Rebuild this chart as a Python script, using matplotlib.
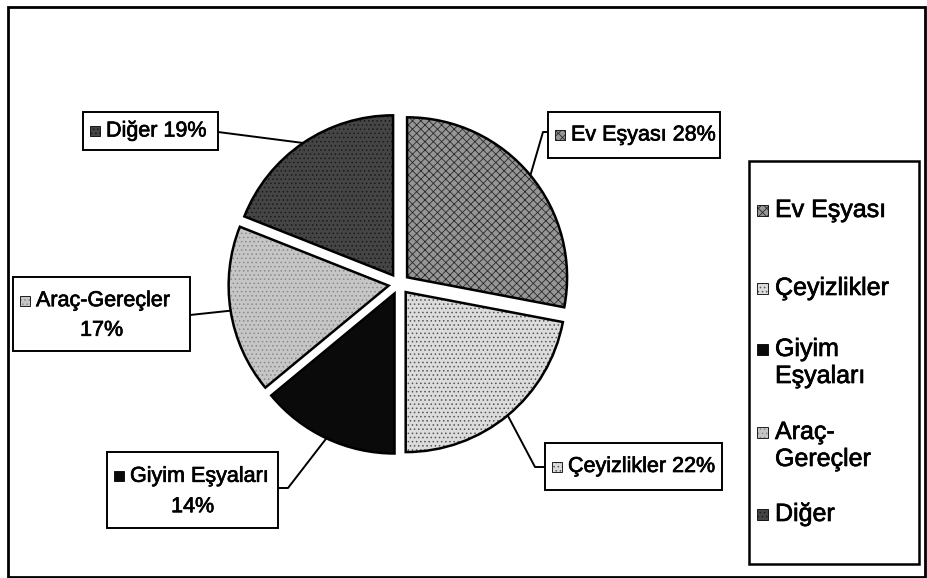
import matplotlib
matplotlib.use("Agg")
import matplotlib.pyplot as plt
import matplotlib.patheffects as pe
from matplotlib.patches import Rectangle
import numpy as np

plt.rcParams['font.family'] = ['Liberation Sans', 'DejaVu Sans']
plt.rcParams['hatch.linewidth'] = 0.6

# data
categories = ["Ev Eşyası", "Çeyizlikler", "Giyim Eşyaları", "Araç-Gereçler", "Diğer"]
percents = [28, 22, 14, 17, 19]
legend_labels = ["Ev Eşyası", "Çeyizlikler", "Giyim\nEşyaları", "Araç-\nGereçler", "Diğer"]
wrap_label = [False, False, True, True, False]

# styles
face_colors = ["#969696", "#dcdcdc", "#0a0a0a", "#c6c6c6", "#454545"]
hatches = ["xxxx", "....", None, "....", "...."]
hatch_colors = ["#2a2a2a", "#555555", "#000000", "#8a8a8a", "#1a1a1a"]

W, H = 927, 578
def Y(py):
    return H - py

fig = plt.figure(figsize=(W / 100, H / 100), dpi=100)
ax = fig.add_axes([0, 0, 1, 1])

# explode is in data units (pixels here)
wedges, _ = ax.pie(percents, explode=[10.5] * len(percents), startangle=90,
                   counterclock=False, center=(399, Y(284)), radius=160,
                   wedgeprops=dict(edgecolor="black", linewidth=1.8),
                   colors=face_colors)
for w, h, hc in zip(wedges, hatches, hatch_colors):
    if h:
        w.set_hatch(h)
        w._hatch_color = matplotlib.colors.to_rgba(hc)

ax.set_xlim(0, W)
ax.set_ylim(0, H)
ax.set_aspect("auto")
ax.axis("off")

thick = [pe.withStroke(linewidth=0.5, foreground="black")]

# outer frame
ax.add_patch(Rectangle((8, Y(577)), 917, 570, fill=False, edgecolor="black", linewidth=2))

def marker(x, yc, i, size=10):
    r = Rectangle((x, Y(yc) - size / 2), size, size, facecolor=face_colors[i],
                  edgecolor="black", linewidth=0.6, zorder=5)
    if hatches[i]:
        r.set_hatch(hatches[i])
        r._hatch_color = matplotlib.colors.to_rgba(hatch_colors[i])
    ax.add_patch(r)

# data label boxes (x0, top, x1, bottom) in pixels
label_boxes = [(548, 112, 720, 158), (545, 443, 722, 490), (107, 452, 278, 528),
               (13, 277, 190, 351), (83, 112, 218, 150)]
# leader: anchor on box, optional elbow x
anchors = [(548, 132, 543), (545, 467, 535), (278, 488, 288), (190, 315, None), (218, 132, None)]

label_fs = 15.5
for i, (w, box, anc) in enumerate(zip(wedges, label_boxes, anchors)):
    x0, t, x1, b = box
    ax.add_patch(Rectangle((x0, Y(b)), x1 - x0, b - t, facecolor="white",
                           edgecolor="black", linewidth=1.4, zorder=3))
    if wrap_label[i]:
        y1 = t + (b - t) * 0.32
        y2 = t + (b - t) * 0.72
        marker(x0 + 7, y1, i)
        ax.text(x0 + 23, Y(y1), categories[i], fontsize=label_fs, va="center",
                ha="left", zorder=6, path_effects=thick)
        ax.text((x0 + x1) / 2, Y(y2), f"{percents[i]}%", fontsize=label_fs,
                va="center", ha="center", zorder=6, path_effects=thick)
    else:
        yc = (t + b) / 2
        marker(x0 + 7, yc, i)
        ax.text(x0 + 23, Y(yc), f"{categories[i]} {percents[i]}%", fontsize=label_fs,
                va="center", ha="left", zorder=6, path_effects=thick)
    ang = np.deg2rad((w.theta1 + w.theta2) / 2)
    cx, cy = w.center
    ex, ey = cx + w.r * np.cos(ang), cy + w.r * np.sin(ang)
    ax_, ay_, elbow = anc
    xs = [ax_] + ([elbow] if elbow is not None else []) + [ex]
    ys = [Y(ay_)] + ([Y(ay_)] if elbow is not None else []) + [ey]
    ax.plot(xs, ys, color="black", linewidth=1.4, zorder=2)

# legend
ax.add_patch(Rectangle((749, Y(564)), 170, 403, fill=False, edgecolor="black", linewidth=1.8))
legend_fs = 18
line_h = 27
legend_y = [210, 288, 349, 432, 514]
for i, (lab, y) in enumerate(zip(legend_labels, legend_y)):
    marker(757, y, i, size=11)
    for k, ln in enumerate(lab.split("\n")):
        ax.text(775, Y(y + k * line_h), ln, fontsize=legend_fs, va="center", ha="left",
                path_effects=thick)

fig.savefig("out.png", dpi=100)
